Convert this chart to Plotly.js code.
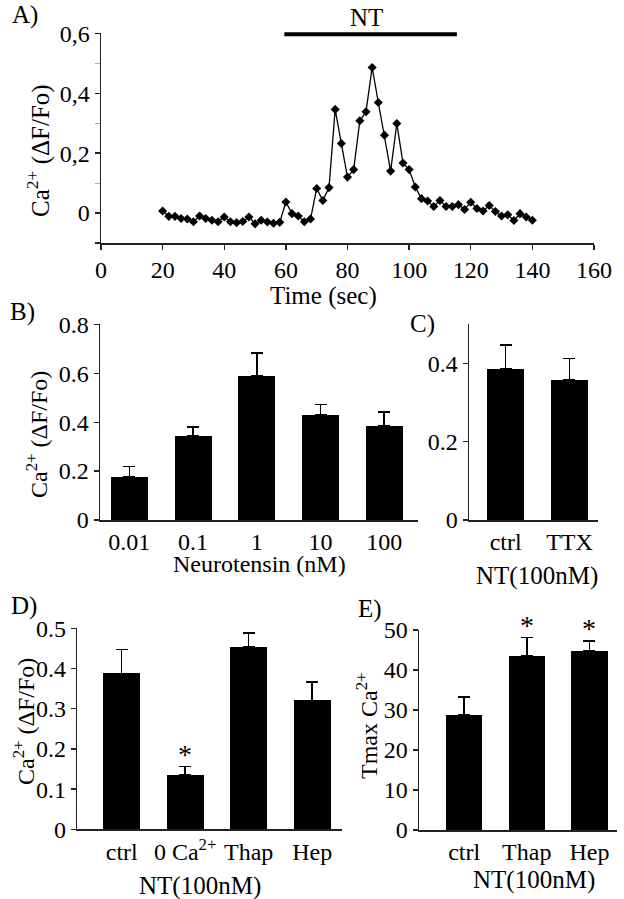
<!DOCTYPE html>
<html><head><meta charset="utf-8">
<script src="https://cdn.plot.ly/plotly-3.0.1.min.js"></script>
<style>html,body{margin:0;padding:0;background:#fff;} #chart{width:624px;height:899px;}</style>
</head><body><div id="chart"></div>
<script>
// ---------- Panel A: time course ----------
const timeSec = [20,22,24,26,28,30,32,34,36,38,40,42,44,46,48,50,52,54,56,58,
  60,62,64,66,68,70,72,74,76,78,80,82,84,86,88,90,92,94,96,98,
  100,102,104,106,108,110,112,114,116,118,120,122,124,126,128,130,132,134,136,138,140];
const caTrace = [0.007,-0.011,-0.011,-0.018,-0.020,-0.029,-0.010,-0.018,-0.024,-0.029,
  -0.013,-0.029,-0.032,-0.028,-0.013,-0.036,-0.024,-0.030,-0.034,-0.031,
  0.037,-0.002,-0.010,-0.029,-0.020,0.082,0.042,0.085,0.346,0.232,
  0.120,0.145,0.308,0.338,0.486,0.369,0.260,0.140,0.299,0.167,
  0.145,0.087,0.048,0.040,0.022,0.042,0.022,0.022,0.028,0.012,
  0.036,0.015,0.007,0.025,0.005,-0.010,-0.006,-0.025,-0.002,-0.013,-0.024];
const ntPeriod = [59.5, 115.5];
const aYTickVals = [-0.1, 0, 0.2, 0.4, 0.6];
const aYTickText = ['', '0', '0,2', '0,4', '0,6'];

// ---------- Panel B: dose response ----------
const ntConc = ['0.01','0.1','1','10','100'];
const bMean = [0.175,0.344,0.589,0.431,0.385];
const bSem  = [0.043,0.036,0.093,0.041,0.056];

// ---------- Panel C ----------
const cCats = ['ctrl','TTX'];
const cMean = [0.386,0.358];
const cSem  = [0.061,0.055];

// ---------- Panel D ----------
const dCats = ['ctrl','0 Ca<sup>2+</sup>','Thap','Hep'];
const dMean = [0.388,0.136,0.454,0.321];
const dSem  = [0.059,0.020,0.034,0.045];
const dSig  = [false,true,false,false];

// ---------- Panel E ----------
const eCats = ['ctrl','Thap','Hep'];
const eMean = [28.75,43.6,44.8];
const eSem  = [4.55,4.5,2.45];
const eSig  = [false,true,true];

const FONT = "'Liberation Serif', 'Times New Roman', serif";
const W = 624, H = 899;
const px = v => v / W;
const py = v => 1 - v / H;
const f = s => ({family: FONT, size: s, color: '#000'});

function barTrace(cats, mean, sem, xa, ya) {
  return {
    type: 'bar', x: cats, y: mean, xaxis: xa, yaxis: ya, width: 0.58,
    marker: {color: '#000', line: {width: 0}},
    error_y: {type: 'data', array: sem, symmetric: false, arrayminus: sem.map(() => 0),
              color: '#000', thickness: 1.5, width: 6},
    hoverinfo: 'none', showlegend: false
  };
}

const traces = [
  {type: 'scatter', mode: 'lines+markers', x: timeSec, y: caTrace, xaxis: 'x', yaxis: 'y',
   line: {color: '#000', width: 1.3}, marker: {symbol: 'diamond', size: 7, color: '#000'},
   showlegend: false, cliponaxis: false},
  barTrace(ntConc, bMean, bSem, 'x2', 'y2'),
  barTrace(cCats, cMean, cSem, 'x3', 'y3'),
  barTrace(dCats, dMean, dSem, 'x4', 'y4'),
  barTrace(eCats, eMean, eSem, 'x5', 'y5')
];

const axBase = {showgrid: false, zeroline: false, showline: true, linecolor: '#222', linewidth: 1.5,
  tickfont: f(24), ticks: 'outside', ticklen: 5, tickwidth: 1.3, tickcolor: '#222', fixedrange: true};
const catX = {showgrid: false, zeroline: false, showline: true, linecolor: '#222', linewidth: 1.5,
  tickfont: f(24), ticks: '', ticklen: 0, type: 'category', fixedrange: true};

const layout = {
  width: W, height: H, margin: {l: 0, r: 0, t: 0, b: 0},
  paper_bgcolor: '#fff', plot_bgcolor: 'rgba(0,0,0,0)',
  font: f(24),
  showlegend: false, bargap: 0,
  xaxis: Object.assign({}, axBase, {domain: [px(101), px(594)], anchor: 'y', range: [0, 160], dtick: 20,
    tickfont: f(24)}),
  yaxis: Object.assign({}, axBase, {domain: [py(243), py(33.3)], anchor: 'x', range: [-0.1, 0.6],
    tickmode: 'array', tickvals: aYTickVals, ticktext: aYTickText, tickfont: f(24),
    minor: {tickmode: 'linear', tick0: 0, dtick: 0.1, ticks: 'outside', ticklen: 5, tickcolor: '#aaa', tickwidth: 1}}),
  xaxis2: Object.assign({}, catX, {domain: [px(100), px(418)], anchor: 'y2', range: [-0.46, 4.53]}),
  yaxis2: Object.assign({}, axBase, {domain: [py(520), py(324.3)], anchor: 'x2', range: [0, 0.8], dtick: 0.2}),
  xaxis3: Object.assign({}, catX, {domain: [px(469), px(598)], anchor: 'y3', range: [-0.575, 1.447]}),
  yaxis3: Object.assign({}, axBase, {domain: [py(520), py(324.3)], anchor: 'x3', range: [0, 0.5], dtick: 0.2}),
  xaxis4: Object.assign({}, catX, {domain: [px(77.3), px(342)], anchor: 'y4', range: [-0.70, 3.47]}),
  yaxis4: Object.assign({}, axBase, {domain: [py(829.3), py(628.3)], anchor: 'x4', range: [0, 0.5], dtick: 0.1}),
  xaxis5: Object.assign({}, catX, {domain: [px(419), px(617)], anchor: 'y5', range: [-0.72, 2.44]}),
  yaxis5: Object.assign({}, axBase, {domain: [py(830), py(630)], anchor: 'x5', range: [0, 50], dtick: 10}),
  shapes: [
    {type: 'line', xref: 'x', yref: 'paper', x0: ntPeriod[0], x1: ntPeriod[1], y0: py(34.3), y1: py(34.3),
     line: {color: '#000', width: 4}}
  ],
  annotations: []
};

function ann(text, x, y, size, opts) {
  layout.annotations.push(Object.assign({text: text, x: px(x), y: py(y), xref: 'paper', yref: 'paper',
    showarrow: false, xanchor: 'center', yanchor: 'middle', font: f(size)}, opts || {}));
}
// panel letters
ann('A)', 25, 15, 25); ann('B)', 22, 312, 25); ann('C)', 422, 324, 25); ann('D)', 24, 606, 25); ann('E)', 370, 609, 25);
// titles
ann('NT', 366.7, 17, 25);
ann('Ca<sup>2+</sup> (ΔF/Fo)', 38, 151, 25, {textangle: -90});
ann('Time (sec)', 323, 296, 25);
ann('Ca<sup>2+</sup> (ΔF/Fo)', 37, 435, 24, {textangle: -90});
ann('Neurotensin (nM)', 259, 564, 24);
ann('NT(100nM)', 537, 576, 25);
ann('Ca<sup>2+</sup> (ΔF/Fo)', 24, 722, 24, {textangle: -90});
ann('NT(100nM)', 200, 886, 25);
ann('Tmax Ca<sup>2+</sup>', 367, 726, 24, {textangle: -90});
ann('NT(100nM)', 534, 880, 25);

// significance asterisks
function stars(cats, mean, sem, sig, xa, ya) {
  cats.forEach((c, i) => {
    if (!sig[i]) return;
    layout.annotations.push({text: '*', x: c, y: mean[i] + sem[i], xref: xa, yref: ya,
      showarrow: false, xanchor: 'center', yanchor: 'bottom', yshift: -5, font: f(28)});
  });
}
stars(dCats, dMean, dSem, dSig, 'x4', 'y4');
stars(eCats, eMean, eSem, eSig, 'x5', 'y5');

Plotly.newPlot('chart', traces, layout, {staticPlot: true, displayModeBar: false});
</script>
</body></html>
